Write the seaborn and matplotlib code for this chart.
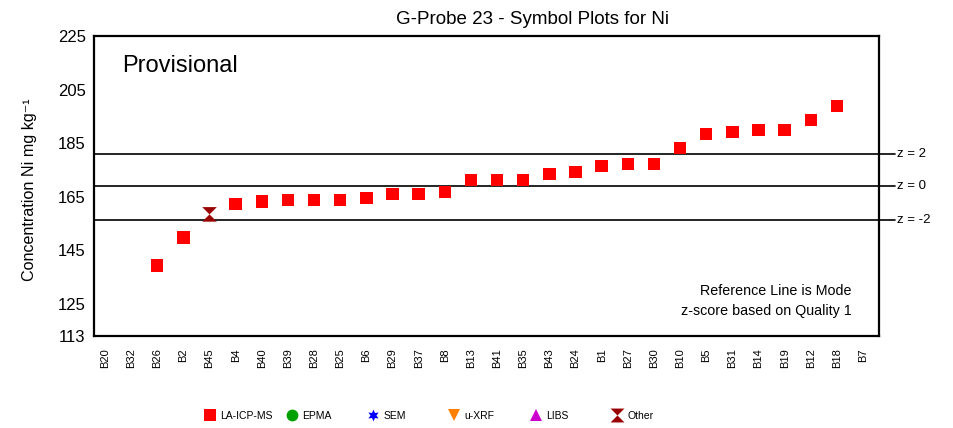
import numpy as np
import pandas as pd
import matplotlib
matplotlib.use("Agg")
import matplotlib.pyplot as plt
from matplotlib.lines import Line2D
import seaborn as sns

# data
labels = ["B20", "B32", "B26", "B2", "B45", "B4", "B40", "B39", "B28", "B25",
          "B6", "B29", "B37", "B8", "B13", "B41", "B35", "B43", "B24", "B1",
          "B27", "B30", "B10", "B5", "B31", "B14", "B19", "B12", "B18", "B7"]
values = [np.nan, np.nan, 139.3, 149.7, 158.4, 162.3, 163.2, 163.8, 163.8, 163.8,
          164.6, 166.0, 166.0, 166.8, 171.2, 171.2, 171.2, 173.5, 174.2, 176.5,
          177.2, 177.2, 183.2, 188.4, 189.2, 189.9, 189.9, 193.6, 198.9, np.nan]
methods = ["LA-ICP-MS"] * len(labels)
methods[4] = "Other"
z_lines = {"z = 2": 180.8, "z = 0": 169.0, "z = -2": 156.2}
yticks = [113, 125, 145, 165, 185, 205, 225]

legend_names = ["LA-ICP-MS", "EPMA", "SEM", "u-XRF", "LIBS", "Other"]
hourglass = [(-1, 1), (1, 1), (0, 0), (1, -1), (-1, -1), (0, 0)]
marker_map = {"LA-ICP-MS": "s", "EPMA": "o", "SEM": (6, 1, 0), "u-XRF": "v",
              "LIBS": "^", "Other": hourglass}
color_map = {"LA-ICP-MS": "#FF0000", "EPMA": "#00A000", "SEM": "#0000FF",
             "u-XRF": "#FF8000", "LIBS": "#CC00CC", "Other": "#990000"}
size_map = {"LA-ICP-MS": 80, "Other": 110}

df = pd.DataFrame({"lab": labels, "value": values, "method": methods})
df["pos"] = np.arange(len(labels))
df = df.dropna()

sns.set_style("white")
plt.rcParams["font.family"] = ["Liberation Sans", "DejaVu Sans"]
plt.rcParams["text.color"] = "black"
plt.rcParams["axes.labelcolor"] = "black"
plt.rcParams["xtick.color"] = "black"
plt.rcParams["ytick.color"] = "black"

fig = plt.figure(figsize=(9.54, 4.28), dpi=100)
ax = fig.add_axes([94 / 954, 1 - 336 / 428, 785 / 954, 300 / 428])

sns.scatterplot(data=df, x="pos", y="value", hue="method", style="method",
                size="method", sizes=size_map,
                palette=color_map, markers=marker_map, linewidth=0,
                legend=False, ax=ax, zorder=3)

for name, yv in z_lines.items():
    ax.axhline(yv, xmin=0, xmax=1.02, color="black", lw=1.2, clip_on=False, zorder=2)
    ax.text(1.023, yv, name, transform=ax.get_yaxis_transform(), va="center",
            ha="left", fontsize=9.5)

ax.set_xlim(-0.42, len(labels) - 1 + 0.61)
ax.set_ylim(113, 225)
ax.set_yticks(yticks)
ax.set_yticklabels([str(t) for t in yticks], fontsize=12)
ax.set_xticks(np.arange(len(labels)))
ax.set_xticklabels(labels, rotation=90, fontsize=8)
ax.tick_params(axis="both", length=0)
ax.tick_params(axis="y", pad=6)
ax.tick_params(axis="x", pad=9)
ax.set_xlabel("")
ax.set_ylabel("Concentration Ni mg kg⁻¹", fontsize=11.6)
ax.yaxis.set_label_coords(-0.073, 0.487)
for sp in ax.spines.values():
    sp.set_color("black")
    sp.set_linewidth(1.6)

ax.text(0.036, 0.88, "Provisional", transform=ax.transAxes, fontsize=17,
        va="baseline", ha="left")
ax.text(0.965, 0.137, "Reference Line is Mode", transform=ax.transAxes,
        fontsize=10.3, ha="right", va="baseline")
ax.text(0.965, 0.07, "z-score based on Quality 1", transform=ax.transAxes,
        fontsize=10.3, ha="right", va="baseline")

fig.text(533 / 954, 1 - 19 / 428, "G-Probe 23 - Symbol Plots for Ni",
         ha="center", va="center", fontsize=13.5)

# legend, one entry per slot so the spacing is even
for i, name in enumerate(legend_names):
    h = Line2D([], [], linestyle="none", marker=marker_map[name],
               color=color_map[name], markersize=10 if name == "Other" else 8.5,
               markeredgewidth=0)
    fig.legend(handles=[h], labels=[name], loc="center left",
               bbox_to_anchor=((205 + i * 81.4) / 954, 1 - 416 / 428),
               frameon=False, fontsize=7.5, borderpad=0, borderaxespad=0,
               handlelength=1.0, handletextpad=0.5)

fig.savefig("out.png", dpi=100)
